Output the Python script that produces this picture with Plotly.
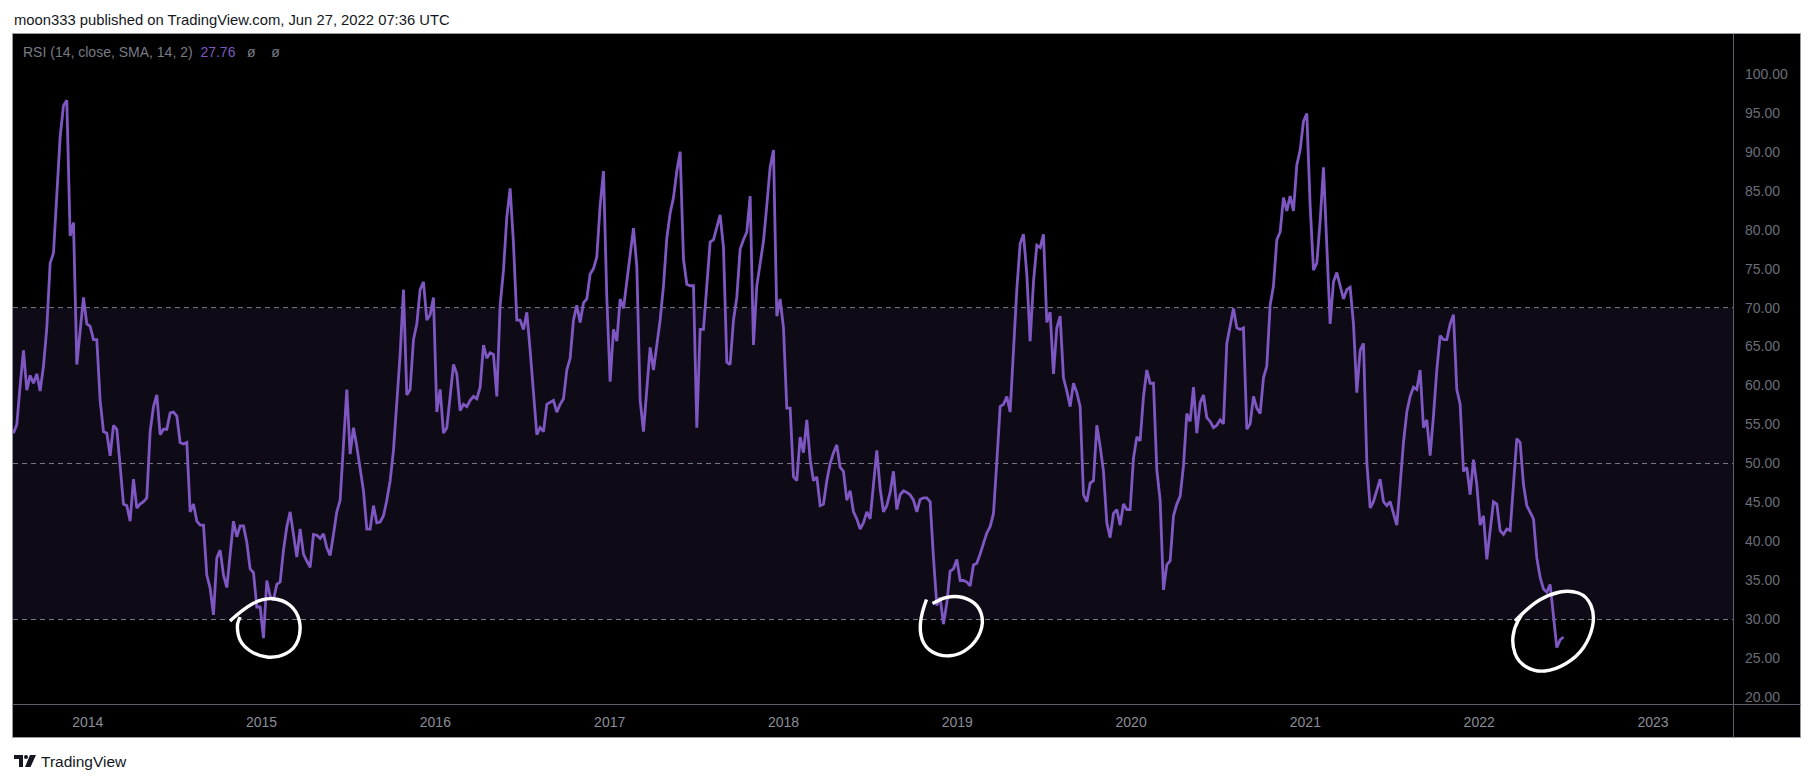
import pandas as pd
import plotly.graph_objects as go

# ---------------- data (weekly RSI) ----------------
start_date = "2013-07-29"

rsi_2013_14 = [53.9, 55.0, 60.0, 64.5, 59.4, 61.3, 60.3, 61.5, 59.3, 62.5,
               67.4, 75.7, 77.0, 84.0, 91.9, 95.9, 96.6, 79.2, 80.9, 62.7,
               67.4, 71.3, 67.9, 67.6, 65.9, 65.9, 58.1, 54.1, 53.9, 51.0,
               54.9, 54.4, 49.7, 44.8, 44.6, 42.6, 48.0, 44.3, 44.8, 45.1,
               45.6, 54.1, 57.3, 58.8, 53.7, 54.4, 54.4, 56.5, 56.6, 56.1,
               52.7, 52.5, 52.7, 43.8, 44.8, 42.6, 42.1, 42.1, 35.7, 34.0,
               30.6, 37.9, 38.9, 35.7, 34.1, 38.0, 42.6, 40.6, 42.0, 42.0,
               39.9, 36.5, 36.0, 31.6, 31.6, 27.6, 35.0, 33.0, 32.5, 34.5,
               34.8, 38.9, 41.9, 43.8, 41.0, 38.0, 41.6, 38.4, 37.5, 36.7]

rsi_2015_16 = [40.9, 40.8, 40.4, 41.0, 39.2, 38.2, 40.9, 43.8, 45.3, 52.7,
               59.5, 51.2, 54.6, 52.2, 49.0, 46.5, 41.6, 41.6, 44.6, 42.4,
               42.5, 43.3, 45.3, 47.8, 51.7, 57.6, 64.0, 72.3, 58.8, 59.5,
               65.9, 67.9, 72.3, 73.3, 68.4, 69.1, 71.3, 56.6, 59.5, 53.9,
               54.6, 58.6, 62.7, 61.5, 56.8, 57.6, 57.3, 58.1, 58.6, 58.3,
               59.8, 65.2, 63.5, 64.2, 64.0, 58.6, 70.3, 74.8, 81.6, 85.3,
               78.2, 68.4, 68.4, 67.2, 69.4, 64.5, 59.5, 53.7, 54.6, 54.1,
               57.6, 57.8, 58.1, 56.6, 57.6, 58.3, 62.0, 63.5, 68.4, 70.3,
               68.1, 70.6, 71.1, 74.3, 75.0, 76.5, 83.1, 87.5, 71.3, 60.5]

rsi_2017_18 = [67.2, 65.7, 71.1, 69.9, 73.3, 77.2, 80.2, 75.3, 58.1, 54.1,
               59.1, 64.9, 62.0, 65.4, 68.4, 72.8, 78.9, 82.1, 84.1, 87.5,
               90.0, 76.2, 73.0, 72.8, 72.8, 54.6, 67.2, 67.2, 72.3, 78.4,
               78.7, 80.2, 81.9, 77.7, 63.0, 62.7, 68.4, 71.3, 77.5, 78.7,
               79.7, 84.3, 65.2, 72.8, 75.8, 78.5, 83.1, 88.0, 90.2, 68.9,
               71.1, 67.4, 57.1, 57.1, 48.3, 47.8, 53.4, 51.4, 55.6, 50.5,
               47.8, 48.3, 44.6, 44.8, 47.8, 50.0, 51.4, 52.4, 49.5, 49.0,
               45.3, 46.5, 43.8, 42.9, 41.6, 42.4, 43.8, 42.9, 47.3, 51.7,
               46.8, 43.8, 44.6, 46.3, 49.0, 44.1, 46.0, 46.5, 46.3, 46.0]

rsi_2018_20 = [45.3, 43.8, 45.4, 45.6, 45.6, 45.1, 37.9, 31.8, 32.8, 29.4,
               32.1, 36.2, 36.5, 37.7, 35.0, 35.0, 34.8, 34.3, 37.0, 37.2,
               38.4, 39.9, 41.1, 41.9, 43.6, 50.2, 57.3, 57.6, 58.6, 56.6,
               64.9, 72.3, 78.2, 79.4, 74.3, 65.7, 73.3, 78.0, 77.7, 79.4,
               68.1, 69.4, 61.5, 67.4, 68.9, 61.0, 59.3, 57.3, 60.3, 59.1,
               57.3, 46.0, 45.1, 47.5, 47.8, 54.9, 52.2, 49.0, 42.4, 40.5,
               43.6, 44.1, 42.1, 44.8, 44.1, 44.1, 50.7, 53.4, 52.9, 58.6,
               62.0, 60.3, 60.3, 49.2, 45.3, 33.8, 37.0, 37.5, 43.3, 44.8,
               45.8, 49.7, 56.4, 55.4, 59.8, 53.9, 57.8, 58.8, 55.9, 55.4]

rsi_2020_22 = [54.6, 54.9, 55.6, 55.1, 65.4, 67.9, 69.9, 67.4, 67.2, 67.4,
               54.4, 55.1, 58.6, 57.1, 56.4, 61.0, 62.5, 70.3, 72.8, 78.7,
               79.7, 84.1, 82.4, 84.3, 82.4, 88.3, 90.2, 93.9, 94.9, 83.1,
               74.8, 75.7, 81.1, 88.0, 78.7, 67.9, 73.3, 74.5, 72.8, 71.1,
               72.3, 72.6, 67.9, 59.1, 64.5, 65.4, 50.2, 44.3, 45.1, 46.5,
               48.0, 45.1, 44.6, 45.1, 43.6, 42.1, 47.3, 52.7, 56.6, 58.6,
               59.8, 59.5, 62.0, 54.6, 55.6, 51.0, 56.1, 62.0, 66.4, 65.9,
               65.9, 67.9, 69.1, 59.5, 57.6, 49.0, 49.5, 46.0, 50.5, 47.3,
               42.1, 43.3, 37.7, 41.4, 45.1, 44.8, 41.4, 40.9, 41.6, 41.4]

rsi_2022 = [47.8, 53.2, 52.7, 47.3, 44.6, 43.8, 42.9, 37.9, 35.4, 33.9,
            33.5, 34.5, 30.1, 26.4, 27.4, 27.76]

rsi_values = rsi_2013_14 + rsi_2015_16 + rsi_2017_18 + rsi_2018_20 + rsi_2020_22 + rsi_2022
dates = pd.date_range(start_date, periods=len(rsi_values), freq="7D")

y_ticks = [20, 25, 30, 35, 40, 45, 50, 55, 60, 65, 70, 75, 80, 85, 90, 95, 100]
band_lo, band_mid, band_hi = 30, 50, 70
last_value_label = "27.76"
title_text = "moon333 published on TradingView.com, Jun 27, 2022 07:36 UTC"

# ---------------- layout geometry (pixels) ----------------
W, H = 1813, 783
L, R, T, B = 13, 1733, 34, 704  # plot area


def px(x):
    return (x - L) / (R - L)


def py(y):
    return (B - y) / (B - T)


def smooth_path(pts):
    P = [(px(x), py(y)) for x, y in pts]
    d = f"M {P[0][0]:.5f},{P[0][1]:.5f}"
    for i in range(1, len(P) - 1):
        mx = (P[i][0] + P[i + 1][0]) / 2
        my = (P[i][1] + P[i + 1][1]) / 2
        d += f" Q {P[i][0]:.5f},{P[i][1]:.5f} {mx:.5f},{my:.5f}"
    d += f" L {P[-1][0]:.5f},{P[-1][1]:.5f}"
    return d


def poly_path(pts):
    P = [(px(x), py(y)) for x, y in pts]
    return "M " + " L ".join(f"{a:.5f},{b:.5f}" for a, b in P) + " Z"


FONT = "Liberation Sans, Arial, sans-serif"
PURPLE = "#7e57c2"

fig = go.Figure()
fig.add_trace(go.Scatter(
    x=dates, y=rsi_values, mode="lines",
    line=dict(color=PURPLE, width=2.8),
    hoverinfo="x+y", showlegend=False,
))

shapes = []
# black chart frame including axis panels
shapes.append(dict(type="rect", xref="paper", yref="paper",
                   x0=px(12.5), x1=px(1800.5), y0=py(737.5), y1=py(33.5),
                   fillcolor="#000000", line=dict(color="#9598a1", width=1), layer="below"))
# RSI band
shapes.append(dict(type="rect", xref="paper", yref="y", x0=0, x1=1,
                   y0=band_lo, y1=band_hi, fillcolor="#0e0b17", line=dict(width=0), layer="below"))
for lv in (band_hi, band_mid, band_lo):
    shapes.append(dict(type="line", xref="paper", yref="y", x0=0, x1=1, y0=lv, y1=lv,
                       line=dict(color="#787b86", width=1, dash="5px,4px"), layer="below"))
# panel separators
shapes.append(dict(type="line", xref="paper", yref="paper",
                   x0=px(1733.5), x1=px(1733.5), y0=py(737.5), y1=py(33.5),
                   line=dict(color="#5d606b", width=1)))
shapes.append(dict(type="line", xref="paper", yref="paper",
                   x0=px(12.5), x1=px(1800.5), y0=py(704.5), y1=py(704.5),
                   line=dict(color="#5d606b", width=1)))

# hand-drawn white circles
circle1 = [(230, 621), (243, 609), (263, 598), (283, 599.5), (297, 611), (301.5, 630),
           (295, 649), (277, 658), (257, 656), (240, 643.5), (236.5, 626), (240, 617)]
circle2 = [(926.5, 599.5), (921.5, 613), (919.5, 632), (925, 647.5), (940, 656.5), (960, 655),
           (976.5, 641.5), (984, 622.5), (978.5, 605), (963, 596.5), (946.5, 596.5), (932.5, 603.5)]
circle3 = [(1515, 621), (1530, 605.5), (1550, 594), (1570, 590), (1587, 596), (1595, 615),
           (1590, 638), (1577, 657), (1555, 670), (1535, 672), (1518, 662), (1512, 645),
           (1514, 628), (1522, 614)]
for c in (circle1, circle2, circle3):
    shapes.append(dict(type="path", xref="paper", yref="paper", path=smooth_path(c),
                       line=dict(color="#ffffff", width=3.4)))

# TradingView logo glyph
LOGO = "#131722"
shapes.append(dict(type="rect", xref="paper", yref="paper", x0=px(14), x1=px(23), y0=py(759), y1=py(755),
                   fillcolor=LOGO, line=dict(width=0)))
shapes.append(dict(type="rect", xref="paper", yref="paper", x0=px(19), x1=px(23), y0=py(767), y1=py(755),
                   fillcolor=LOGO, line=dict(width=0)))
shapes.append(dict(type="circle", xref="paper", yref="paper", x0=px(24), x1=px(28), y0=py(759), y1=py(755),
                   fillcolor=LOGO, line=dict(width=0)))
shapes.append(dict(type="path", xref="paper", yref="paper",
                   path=poly_path([(30, 755), (36, 755), (30.5, 767), (25, 767)]),
                   fillcolor=LOGO, line=dict(width=0)))

annotations = [
    dict(xref="paper", yref="paper", x=px(12), y=py(20), xanchor="left", yanchor="middle",
         text=title_text, showarrow=False, font=dict(family=FONT, size=14.8, color="#131722")),
    dict(xref="paper", yref="paper", x=px(21), y=py(52), xanchor="left", yanchor="middle",
         text=("RSI (14, close, SMA, 14, 2)&nbsp; <span style='color:%s'>%s</span>&nbsp;&nbsp; ø&nbsp;&nbsp;&nbsp; ø"
               % (PURPLE, last_value_label)),
         showarrow=False, font=dict(family=FONT, size=14, color="#787b86")),
    dict(xref="paper", yref="paper", x=px(39), y=py(761), xanchor="left", yanchor="middle",
         text="TradingView", showarrow=False, font=dict(family=FONT, size=15.5, color="#131722")),
]

fig.update_layout(
    width=W, height=H,
    margin=dict(l=L, r=W - R, t=T, b=H - B, pad=0),
    paper_bgcolor="#ffffff", plot_bgcolor="#000000",
    shapes=shapes, annotations=annotations,
    showlegend=False,
    xaxis=dict(
        type="date", range=["2013-07-28", "2023-06-18"],
        tick0="2014-01-01", dtick="M12", tickformat="%Y",
        showgrid=False, zeroline=False, showline=False, ticks="",
        tickfont=dict(family=FONT, size=14, color="#8a8d96"),
        ticklabelstandoff=8, automargin=False, fixedrange=True,
    ),
    yaxis=dict(
        side="right", range=[19.16, 105.09],
        tickmode="array", tickvals=y_ticks, tickformat=".2f",
        showgrid=False, zeroline=False, showline=False, ticks="",
        tickfont=dict(family=FONT, size=14, color="#6b6e78"),
        ticklabelstandoff=11, automargin=False, fixedrange=True,
    ),
)

fig.write_html(
    "out.html",
    config={"displayModeBar": False},
    post_script="document.body.style.margin='0px';document.body.style.overflow='hidden';",
)
